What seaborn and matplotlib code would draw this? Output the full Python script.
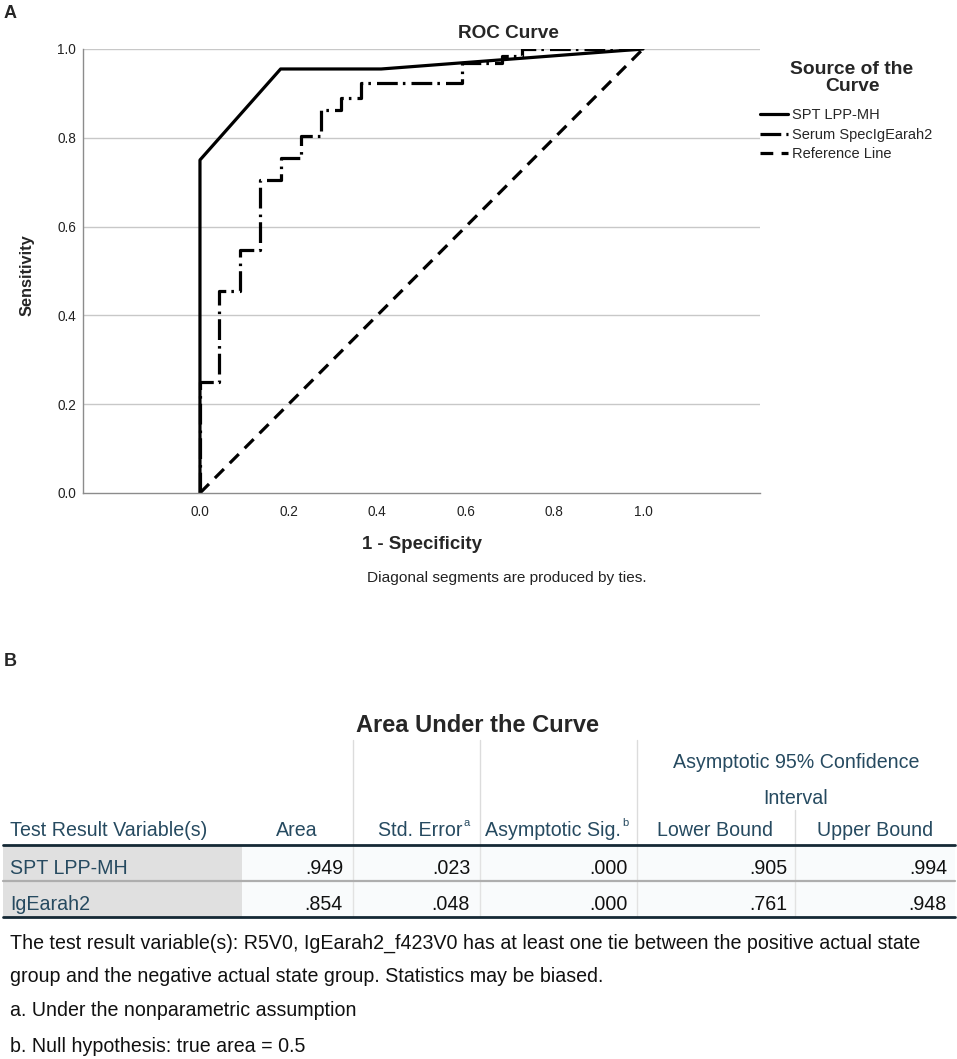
import numpy as np
import pandas as pd
import matplotlib
matplotlib.use("Agg")
import matplotlib.pyplot as plt
import seaborn as sns
from matplotlib.patches import Rectangle

# ---------------- data ----------------
spt_fpr = [0.0, 0.0, 0.182, 0.409, 1.0]
spt_tpr = [0.0, 0.75, 0.955, 0.955, 1.0]

serum_fpr = [0.0, 0.0, 0.043, 0.043, 0.090, 0.090, 0.136, 0.136, 0.182, 0.182,
             0.227, 0.227, 0.273, 0.273, 0.318, 0.318, 0.364, 0.364, 0.591, 0.591,
             0.682, 0.682, 0.727, 0.727, 1.0]
serum_tpr = [0.0, 0.25, 0.25, 0.455, 0.455, 0.547, 0.547, 0.705, 0.705, 0.754,
             0.754, 0.803, 0.803, 0.863, 0.863, 0.890, 0.890, 0.923, 0.923, 0.968,
             0.968, 0.985, 0.985, 1.0, 1.0]

ref_x = [0.0, 1.0]
ref_y = [0.0, 1.0]

tick_vals = [0.0, 0.2, 0.4, 0.6, 0.8, 1.0]
tick_labels = ["0.0", "0.2", "0.4", "0.6", "0.8", "1.0"]

series_labels = ["SPT LPP-MH", "Serum SpecIgEarah2", "Reference Line"]

auc_vars = ["SPT LPP-MH", "IgEarah2"]
auc_area = [".949", ".854"]
auc_se = [".023", ".048"]
auc_sig = [".000", ".000"]
auc_lower = [".905", ".761"]
auc_upper = [".994", ".948"]

footnotes = [
    "The test result variable(s): R5V0, IgEarah2_f423V0 has at least one tie between the positive actual state",
    "group and the negative actual state group. Statistics may be biased.",
    "a. Under the nonparametric assumption",
    "b. Null hypothesis: true area = 0.5",
]

# ---------------- style ----------------
sns.set_theme(style="white")
plt.rcParams["font.family"] = ["Liberation Sans", "DejaVu Sans"]

W, H = 957, 1059
fig = plt.figure(figsize=(W / 100, H / 100), dpi=100)

# overlay axes in pixel coords
ov = fig.add_axes([0, 0, 1, 1])
ov.set_xlim(0, W)
ov.set_ylim(H, 0)
ov.axis("off")

# ROC axes
L, R, T, B = 83, 760, 49, 493
ax = fig.add_axes([L / W, 1 - B / H, (R - L) / W, (B - T) / H])
ax.set_facecolor("none")

lw = 2.3
sns.lineplot(x=spt_fpr, y=spt_tpr, ax=ax, color="black", lw=lw,
             estimator=None, sort=False, label=series_labels[0])
sns.lineplot(x=serum_fpr, y=serum_tpr, ax=ax, color="black", lw=lw,
             estimator=None, sort=False, label=series_labels[1],
             linestyle=(0, (6.5, 1.6, 0.8, 1.9)))
sns.lineplot(x=ref_x, y=ref_y, ax=ax, color="black", lw=lw,
             estimator=None, sort=False, label=series_labels[2],
             linestyle=(0, (4.0, 2.6)))

ax.set_xlim(-0.264, 1.264)
ax.set_ylim(0, 1.0)
ax.set_xticks(tick_vals)
ax.set_xticklabels(tick_labels)
ax.set_yticks(tick_vals)
ax.set_yticklabels(tick_labels)
ax.tick_params(axis="both", length=0, labelsize=9.8, colors="#222222", pad=5)
ax.tick_params(axis="x", pad=9)
for yv in tick_vals[1:]:
    ax.axhline(yv, color="#c8c8c8", lw=1.0, zorder=0)
for s in ["top", "right"]:
    ax.spines[s].set_visible(False)
for s in ["left", "bottom"]:
    ax.spines[s].set_color("#8c8c8c")
    ax.spines[s].set_linewidth(1.0)
ax.grid(False)

ax.set_xlabel("1 - Specificity", fontsize=13.4, fontweight="bold")
ax.xaxis.set_label_coords(0.5, -0.097)
ax.set_ylabel("Sensitivity", fontsize=11.8, fontweight="bold")
ax.yaxis.set_label_coords(-0.071, 0.49)

leg = ax.legend(loc="upper left", bbox_to_anchor=(760 / W, 1 - 108 / H),
                bbox_transform=fig.transFigure, frameon=False,
                fontsize=10.5, handlelength=1.9, handletextpad=0.3,
                labelspacing=0.39, borderpad=0, borderaxespad=0)
ov.text(852, 78, "Source of the\nCurve", fontsize=13.9, fontweight="bold",
        ha="center", va="center", linespacing=1.0)

# chart texts
ov.text(10, 14, "A", fontsize=13, fontweight="bold", ha="center", va="center")
ov.text(508, 34, "ROC Curve", fontsize=13.7, fontweight="bold", ha="center", va="center")
ov.text(507, 578, "Diagonal segments are produced by ties.", fontsize=11.1,
        ha="center", va="center", color="#222222")

# ---------------- table ----------------
ov.text(10, 661, "B", fontsize=13, fontweight="bold", ha="center", va="center")
ov.text(478, 726, "Area Under the Curve", fontsize=17, fontweight="bold",
        ha="center", va="center")

hdr = "#264a60"
dark = "#152935"
fs = 14.1

# backgrounds
for y0, y1 in [(845, 881), (881, 917)]:
    ov.add_patch(Rectangle((3, y0), 242 - 3, y1 - y0, color="#e0e0e0", lw=0, zorder=0))
    ov.add_patch(Rectangle((242, y0), 955 - 242, y1 - y0, color="#f9fbfc", lw=0, zorder=0))

# header vertical separators
for xv in [353, 480, 637]:
    ov.plot([xv, xv], [740, 845], color="#dcdcdc", lw=1.0, zorder=1)
ov.plot([795, 795], [810, 845], color="#dcdcdc", lw=1.0, zorder=1)
for xv in [353, 480, 637, 795]:
    ov.plot([xv, xv], [845, 917], color="#e2e2e2", lw=1.0, zorder=1)

# horizontal rules
ov.plot([3, 955], [845, 845], color=dark, lw=2.0, zorder=2)
ov.plot([3, 955], [881, 881], color="#aeaeae", lw=1.6, zorder=2)
ov.plot([3, 955], [917, 917], color=dark, lw=2.0, zorder=2)

# header texts
hy = 831
ov.text(10, hy, "Test Result Variable(s)", fontsize=fs, color=hdr, ha="left", va="center")
ov.text(297, hy, "Area", fontsize=fs, color=hdr, ha="center", va="center")
ov.text(462, hy, "Std. Error", fontsize=fs, color=hdr, ha="right", va="center")
ov.text(463, hy - 8, "a", fontsize=8, color=hdr, ha="left", va="center")
ov.text(621, hy, "Asymptotic Sig.", fontsize=fs, color=hdr, ha="right", va="center")
ov.text(622, hy - 8, "b", fontsize=8, color=hdr, ha="left", va="center")
ov.text(715, hy, "Lower Bound", fontsize=fs, color=hdr, ha="center", va="center")
ov.text(875, hy, "Upper Bound", fontsize=fs, color=hdr, ha="center", va="center")
ov.text(796, 763, "Asymptotic 95% Confidence", fontsize=fs, color=hdr, ha="center", va="center")
ov.text(796, 798, "Interval", fontsize=fs, color=hdr, ha="center", va="center")

# rows
row_y = [868, 904]
col_right = [343, 470, 628, 787, 947]
for i, yv in enumerate(row_y):
    ov.text(10, yv, auc_vars[i], fontsize=fs, color=hdr, ha="left", va="center")
    vals = [auc_area[i], auc_se[i], auc_sig[i], auc_lower[i], auc_upper[i]]
    for xr, v in zip(col_right, vals):
        ov.text(xr, yv, v, fontsize=fs, color="#111111", ha="right", va="center")

# footnotes
for yv, txt in zip([943, 977, 1011, 1046], footnotes):
    ov.text(10, yv, txt, fontsize=fs, color="#111111", ha="left", va="center")

fig.savefig("out.png", dpi=100)
